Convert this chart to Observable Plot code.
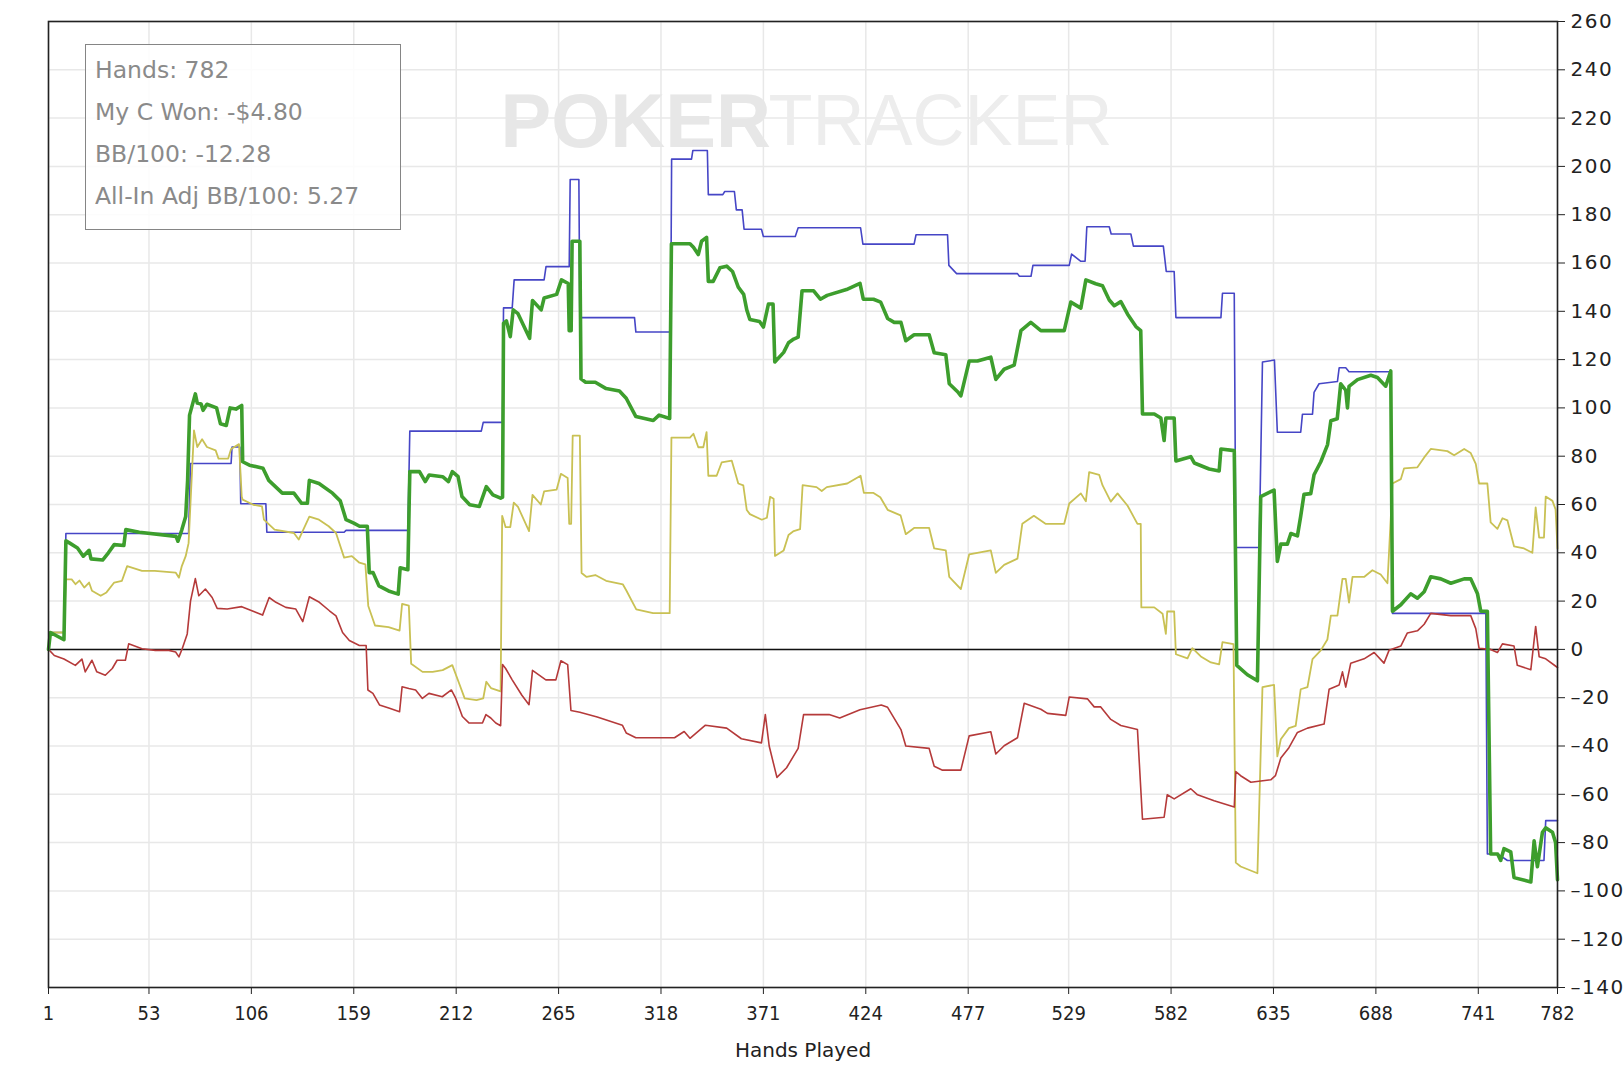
<!DOCTYPE html>
<html><head><meta charset="utf-8">
<script src="https://cdn.jsdelivr.net/npm/d3@7"></script>
<script src="https://cdn.jsdelivr.net/npm/@observablehq/plot@0.6"></script>
<style>
body{margin:0;background:#fff;}
#wrap{position:relative;width:1624px;height:1066px;overflow:hidden;}
#stats{position:absolute;left:85px;top:44px;width:316px;height:186px;border:1.5px solid #858585;box-sizing:border-box;
 font-family:"DejaVu Sans",sans-serif;font-size:23.5px;color:#8a8a8a;background:rgba(255,255,255,0.85);padding:4px 0 0 9px;}
#stats div{height:42px;line-height:42px;white-space:nowrap}
</style></head>
<body>
<div id="wrap"><div id="chart"></div>
<div id="stats"></div></div>
<script>
// ---- data ----
const statLines = ["Hands: 782", "My C Won: -$4.80", "BB/100: -12.28", "All-In Adj BB/100: 5.27"];
const xTickValues = [1, 53, 106, 159, 212, 265, 318, 371, 424, 477, 529, 582, 635, 688, 741, 782];
const yTickValues = [-140,-120,-100,-80,-60,-40,-20,0,20,40,60,80,100,120,140,160,180,200,220,240,260];
const watermarkWords = ["POKER", "TRACKER"];
const xLabel = "Hands Played";

// Net won (green, thick) [hand, big blinds]
const netWon = [[1,0],[2,7],[9,4],[10,45],[12,44],[16,42],[19,38.6],[22,41],[23,37.5],[29,37],[32,40],[35,43.4],[40,43],[41,49.6],[48,48.5],[67,46.8],[68,44.8],[70,49.5],[72,55],[73,70],[74,97],[77,105.8],[78,102],[80,101.6],[81,99],[83,101.5],[88,100],[90,93.4],[93,92.7],[95,100],[98,99.5],[101,101],[101.5,77.7],[105,76.3],[112,75],[115,70],[122,64.7],[128,64.7],[132,60.5],[135,60.5],[136,70],[141,68.7],[148,64.7],[152,61.5],[155,53.7],[159,52.3],[162,51],[166,51],[167,31.8],[169,31.8],[172,26.3],[177,24.2],[182,22.9],[183,33.8],[187,33],[188,73.6],[193,73.6],[196,69.5],[198,72.2],[205,71.5],[208,69.5],[210,73.6],[213,71.5],[215,63.3],[219,59.9],[224,59.2],[227.6,67.4],[231,64],[235,62.6],[236,63],[236.5,135],[238,136],[240,129.5],[241.5,140.6],[244,139],[250,128.8],[251.5,144.5],[256,140.6],[257.5,145.5],[264,147],[266.5,153],[270,151.5],[270.5,132],[271.5,132],[272,169],[276,169],[276.6,112],[279,110.6],[284,110.6],[289.6,108],[296.5,107],[300,104],[305,96.4],[314,94.8],[317,97],[322.5,95.6],[323.4,168],[333,168],[334.8,166.5],[337.3,163.5],[339,169],[341.6,170.6],[342.5,152.4],[345,152.4],[348.5,158],[352,158.7],[355,156.5],[358,150],[360.8,147],[362.4,140.6],[364,136.6],[369,135.8],[371,133.5],[373.6,143],[376,143],[376.9,119],[381.5,123],[384,127],[386.7,128.5],[389,129.3],[391,148.5],[397,148.5],[400.5,145],[404,146.6],[414,149],[421,151.6],[422.7,145],[428,145],[431.7,143.8],[435.3,137],[438.7,135.4],[442.2,135.4],[444.7,127.8],[449,130.3],[456.8,130.3],[459.4,122.8],[465.4,122],[467.2,110],[471.5,106.7],[473.2,105],[477.5,119.4],[481.8,119.4],[488.7,121],[491.3,111.8],[495.6,116],[500.8,117.7],[504.3,132],[509.4,135.4],[514.6,132],[526.7,132],[530.1,143.8],[535.3,141.3],[537.9,153],[543,151.4],[546.5,150.6],[550,144.7],[552.6,142.3],[556,144],[559.5,138.8],[563.8,133.7],[566.3,132],[567.2,97.5],[573.3,97.5],[576.7,95.8],[578.4,86.5],[579.3,95.8],[583.6,95.8],[584.5,78],[592.2,79.8],[594,77.2],[601.7,74.7],[606.9,73.9],[607.8,83],[614.7,82.3],[616,-6.6],[621.5,-10.5],[626.7,-13],[628.4,63.3],[635.3,66],[637,36.4],[638.8,43.6],[642.2,43.6],[644,48],[647.4,47],[649.1,55.2],[650.8,64.2],[654.3,64.5],[656,72.3],[659.5,77.7],[663,84.8],[664.7,94.7],[668,95.5],[669.8,110],[672.4,107.3],[673.3,100],[674.1,108.9],[678.5,111.7],[685.4,113.5],[688.8,112.6],[693.1,109],[695.7,115.3],[696.6,15.8],[700.9,18.5],[706,23],[709.5,21.2],[713,23.9],[716.4,30.1],[721.6,29.2],[726.8,27.4],[733.7,29.2],[737.1,29.2],[740.6,23],[742.3,15.8],[745.7,15.8],[747.4,-84.7],[751,-84.7],[752.6,-87.4],[754.3,-82.5],[757.8,-83.8],[759.5,-94.5],[768.2,-96.3],[769.9,-79.3],[771.6,-90],[774.2,-75.7],[775.9,-73.9],[779.4,-75.7],[781,-80],[782,-95.4]];

// All-in adjusted (blue, thin)
const allInAdj = [[1,0],[2,7],[9,7],[10,48],[73.5,48],[74.5,77],[95.5,77],[96,83.8],[100,83.8],[100.5,60.3],[113.5,60.3],[114,48.5],[154,48.5],[155,49.3],[187,49.3],[188,90.4],[225,90.4],[226,94],[236,94],[236.5,141.4],[241,141.4],[242,153],[257.5,153],[258.5,158.5],[270.5,158.5],[271,194.6],[275.5,194.6],[276,137.4],[304.3,137.4],[305,131.4],[323,131.4],[323.5,203],[333.8,203],[334.5,206.6],[342,206.6],[342.5,188.3],[350,188.3],[351,189.6],[356,189.6],[357,182],[360,182],[361,174],[370,174],[371,171],[387.5,171],[389,174.6],[421.3,174.6],[422.5,167.8],[449,167.8],[450,171.7],[466.3,171.7],[467,159],[471,155.6],[502.5,155.6],[503.5,154.5],[509.5,154.5],[510.5,159],[529.3,159],[530.5,163.7],[535.3,160.7],[537.5,160.7],[538.4,175],[550,175],[551,172],[561.2,172],[562.5,167],[578,167],[579.5,156.5],[583.6,156.5],[584.5,137.4],[607.8,137.4],[608.6,147.5],[614.7,147.5],[615.5,42.2],[627.6,42.2],[629.3,119],[635.5,119.8],[637,89.9],[649.1,89.9],[650,97.4],[655.2,97.4],[656,106.4],[658.6,110],[668.1,110.9],[669,116.6],[672.4,116.6],[674.1,115],[695.7,115],[696.6,14.9],[744.9,14.9],[745.7,-84.7],[751,-84.7],[756.1,-87.4],[775,-87.4],[775.9,-70.9],[782,-70.9]];

// Showdown winnings (yellow, thin)
const showdown = [[1,0],[2,7],[9,7],[10,29],[13,29],[15,27],[17,28.5],[19.5,25.6],[22,27.7],[23.5,24.3],[28,22.2],[31,23.6],[35,27.7],[39,28.4],[41.7,34.5],[49.4,32.5],[56,32.5],[66.8,31.8],[68.5,29.7],[70,34.5],[72,38.6],[73.5,44],[76.3,90.7],[78,83.8],[80.5,87],[83,83.8],[87.5,82.4],[89,79],[94,79],[95.5,83],[99.6,85],[101,63.3],[101.5,62],[107,59.9],[111.5,59.2],[112.5,53.7],[118,49.6],[128,48.2],[130.5,45.5],[136,55],[141,53.7],[146,51],[149.8,48.2],[154,38],[158,38.6],[161.9,35.9],[165,35.2],[166.5,18],[170,9.9],[177,9.2],[182.7,7.8],[184,18.8],[187.5,18.1],[188.7,-5.9],[194.6,-9.3],[199.8,-9.3],[205,-8.6],[210,-6.5],[213.5,-14],[216.4,-20.3],[222.5,-21],[226,-20.3],[227.6,-13.4],[230,-16],[235,-17.4],[235.8,55.3],[237.6,50.6],[240,50.6],[241.8,60.8],[244,59],[249.7,49],[251.5,64],[255.8,60],[257.5,65.4],[264,66.2],[266.2,72.7],[269.7,71],[270.5,52],[271.5,52],[272.3,88.5],[276,88.5],[276.9,31.6],[279.5,30],[284,30.8],[289.6,28.4],[298.3,26.9],[300,24.5],[305.2,16.6],[313.9,15],[322.5,15],[323.4,87.7],[333,87.7],[334.8,89.3],[337.3,83.7],[339.9,83.7],[341.6,90],[342.5,71.9],[346.8,71.9],[349.4,77.4],[354.6,78.2],[358,68.7],[360.6,67.9],[362.4,57.7],[364,56],[370.2,53.7],[372.8,54.5],[374.5,63.2],[376.3,62.4],[377,38.7],[381.5,41],[384,47.4],[386.7,49],[390,49.8],[391.3,68],[398.5,67.2],[401.2,65.6],[403.8,67.2],[414.4,68.7],[421.3,71.9],[423,64.8],[428,64.8],[431.5,63],[435.3,57.8],[442,55.5],[444.7,47.7],[449,50.3],[456.8,50.3],[459.4,41.8],[465.4,41],[467.2,30],[473.2,25],[477.5,39.3],[488.7,41],[491.3,31.7],[495.6,35],[502.5,37.6],[505,52],[511,55.3],[517,52],[526.7,52],[529.3,60.4],[535.3,64.6],[537.9,61.3],[539.6,73.4],[544.8,72.3],[546.5,68],[550.8,61.2],[554.3,64.6],[559.5,59.5],[564.6,52],[566.3,52],[566.6,17.4],[573.3,17.4],[577.6,14.8],[579.3,6.4],[580,15.7],[583.6,15.7],[584.5,-2],[590.5,-3.7],[593,0.5],[597.4,-2.9],[602.6,-5.4],[606.9,-6.2],[608.6,3],[614.3,2.2],[615.5,-88.3],[618,-89.9],[626.7,-92.7],[629.3,-15.6],[635.3,-14.7],[637,-44.3],[638.8,-37.2],[643,-32.6],[646.5,-31.7],[649.1,-16.5],[652.6,-15.6],[655.2,-4],[659.5,-0.4],[662.9,4.1],[664.7,14],[668.1,14],[670.7,29.2],[672.4,29.2],[674.1,19.4],[675.9,30],[681.9,30],[686.2,32.8],[690.5,31],[694,27.4],[696.6,68.7],[700.9,70.5],[702.6,75],[709.5,75.4],[713,79.5],[716.4,83],[725,82.1],[728.5,80.4],[733.7,83],[737.1,81.3],[739.7,76.8],[741.4,68.7],[745.7,68.7],[747.4,52.6],[750.9,49.9],[753.5,54.3],[756.1,53.4],[759.5,42.7],[764.7,41.8],[769,40],[770.7,58.8],[772.5,46.3],[775,46.3],[775.9,63.3],[779.4,61.5],[781,58],[782,41.8]];

// Non-showdown winnings (red, thin)
const nonShowdown = [[1,0],[4,-2.5],[9,-4],[14.9,-6.6],[18.3,-4],[20,-9.3],[23.5,-4.5],[26,-9.3],[30.4,-10.7],[34,-7.9],[36.5,-4.5],[40.8,-4.5],[42.5,2.3],[49.4,0.3],[56.3,-0.4],[63.3,-0.4],[66.8,-1.1],[68.5,-3.1],[70.2,0.3],[72.8,6.4],[74.5,20],[77,29.3],[78.8,22.2],[82.2,25],[85.7,21.5],[88.3,17],[93.5,16.7],[101,17.7],[111.8,14.2],[115.2,21.5],[118.7,19.5],[123.8,17.4],[129,16.7],[132.6,11.5],[136,21.8],[141.2,19.5],[146.4,16],[149.8,13.9],[153.2,7],[156.7,3.7],[161.9,1.6],[165.4,1.6],[166.3,-16.8],[168.9,-18.2],[172.3,-23],[177.5,-24.4],[182.7,-25.8],[184,-15.5],[187.5,-16.2],[191,-16.8],[194.5,-20.3],[197.9,-18.2],[204.8,-19.6],[209.5,-16.8],[211.8,-20.3],[215.2,-27.8],[218.7,-30.5],[225.6,-30.5],[227.4,-27],[229.9,-28.4],[232.5,-30.5],[235,-31.6],[236,-6.3],[237.6,-7.9],[241,-12.6],[246,-19],[249.7,-22.9],[251.5,-8.7],[258.4,-12.6],[263.6,-12.6],[266.2,-4.7],[269.7,-6.3],[271.4,-25.3],[276,-26],[285,-28],[298,-31.4],[300,-34.6],[305,-36.6],[325,-36.6],[330,-34],[333,-36.8],[341,-31.4],[352,-32.6],[359.6,-37],[370,-38.7],[372,-27],[374,-40],[378,-53],[383,-49],[389,-41],[391.8,-27],[405,-27],[410.5,-28.4],[421,-25],[432,-23],[435.3,-24],[442.2,-33.2],[444.7,-40],[456.8,-41],[459.4,-48.4],[463.7,-50],[473.2,-50],[477.5,-35.8],[488.7,-34.1],[491.3,-43.3],[495.6,-39.9],[502.5,-36.6],[506,-22.3],[514.6,-24.8],[518,-26.5],[527.5,-27.3],[529.3,-19.7],[538.8,-20.5],[542.2,-23.8],[545.6,-23.8],[550.8,-29],[556,-31.5],[564.6,-33.2],[567.2,-70.3],[578.4,-69.5],[580,-60.2],[583.6,-61.9],[592.2,-57.7],[595.7,-60.2],[604.3,-62.7],[614.7,-65.3],[615.5,-50.6],[618,-52.3],[623.3,-55],[633.6,-54],[636,-52.3],[638.8,-45],[643,-40.7],[647.4,-34.4],[652.6,-32.6],[661.2,-30.9],[663.8,-16.5],[669,-14.7],[670.7,-9.3],[672.4,-15.6],[675,-5.7],[681.9,-3.9],[687.1,-1.3],[692.2,-5.7],[694.8,-0.4],[700.9,1.4],[704.3,6.8],[709.5,7.7],[713,10.4],[716.4,14.9],[726.8,14],[737.1,14],[739.7,8.6],[741.4,0.5],[747.4,0],[750.9,-1.3],[753.5,2.3],[759.5,1.4],[761.2,-6.6],[768.2,-8.4],[770.7,9.5],[772.5,-3],[775.9,-3.9],[782,-7.5]];

// ---- stats box ----
d3.select("#stats").selectAll("div").data(statLines).join("div").text(d => d);

const xy = {x: d => d[0], y: d => d[1]};
const chart = Plot.plot({
  width: 1624, height: 1066,
  marginLeft: 48, marginTop: 21, marginRight: 67, marginBottom: 79,
  x: {domain: [1, 782]},
  y: {domain: [-140, 260]},
  style: {fontFamily: "DejaVu Sans", color: "#222", background: "transparent"},
  marks: [
    Plot.gridX(xTickValues, {stroke: "#e8e8e8", strokeOpacity: 1, strokeWidth: 1.5}),
    Plot.gridY(yTickValues, {stroke: "#e8e8e8", strokeOpacity: 1, strokeWidth: 1.5}),
    Plot.text([watermarkWords[0]], {text: d => d, frameAnchor: "top-left", dx: 452, dy: 72, textAnchor: "start",
      fontSize: 76, fontWeight: "bold", fontFamily: "Liberation Sans", fill: "#e7e7e7"}),
    Plot.text([watermarkWords[1]], {text: d => d, frameAnchor: "top-left", dx: 720, dy: 72, textAnchor: "start",
      fontSize: 72, fontWeight: "normal", fontFamily: "Liberation Sans", fill: "#ededed"}),
    Plot.ruleY([0], {stroke: "#111", strokeWidth: 1.5}),
    Plot.line(allInAdj, {...xy, stroke: "#4646c6", strokeWidth: 1.6}),
    Plot.line(showdown, {...xy, stroke: "#c9c154", strokeWidth: 1.8}),
    Plot.line(nonShowdown, {...xy, stroke: "#b53a3a", strokeWidth: 1.6}),
    Plot.line(netWon, {...xy, stroke: "#3d9e2d", strokeWidth: 3.6}),
    Plot.frame({stroke: "#222", strokeWidth: 1.6}),
    Plot.axisX(xTickValues, {tickSize: 7, tickPadding: 11, fontSize: 20, tickFormat: d => String(d), label: null}),
    Plot.text([xLabel], {text: d => d, frameAnchor: "bottom", dy: 69, fontSize: 20, fill: "#222"}),
    Plot.axisY(yTickValues, {anchor: "right", tickSize: 7, tickPadding: 6, fontSize: 20, label: null,
      tickFormat: d => d < 0 ? "\u2013" + Math.abs(d) : String(d)})
  ]
});
document.getElementById("chart").appendChild(chart);
const svg = d3.select(chart);
svg.selectAll('[aria-label="x-axis tick label"] text')
  .style("font-family", "'DejaVu Sans Condensed', 'DejaVu Sans'").style("font-stretch", "condensed");
svg.selectAll('[aria-label="y-axis tick label"] text').style("letter-spacing", "1.5px");
</script>
</body></html>
